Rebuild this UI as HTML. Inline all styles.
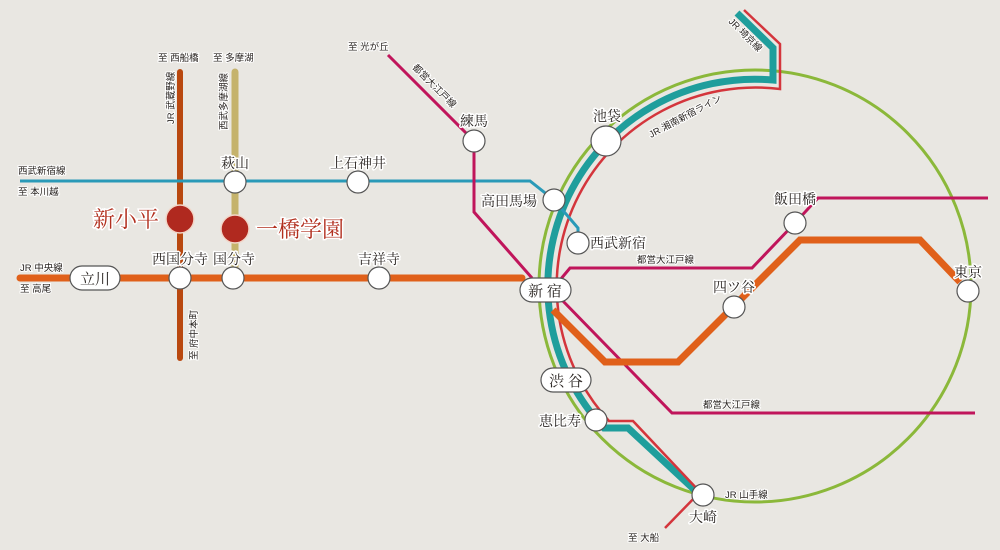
<!DOCTYPE html>
<html><head><meta charset="utf-8"><style>
html,body{margin:0;padding:0;background:#e9e7e2;}
svg{display:block;}
text{font-family:"Liberation Sans","Noto Sans CJK JP",sans-serif;fill:#2a2522;}
.st{font-family:"Liberation Serif","Noto Serif CJK SC",serif;font-size:14px;stroke:#fff;stroke-width:3px;paint-order:stroke;stroke-linejoin:round;}
.sm{font-size:9.5px;stroke:#fff;stroke-width:2px;paint-order:stroke;}
.big{font-family:"Liberation Serif","Noto Serif CJK SC",serif;font-size:22px;fill:#b2301f;stroke:#fff;stroke-width:3px;paint-order:stroke;}
.pl{font-family:"Liberation Serif","Noto Serif CJK SC",serif;font-size:15px;}
.stn{fill:#fff;stroke:#555;stroke-width:1.2;}
</style></head><body>
<svg width="1000" height="550" viewBox="0 0 1000 550" xmlns="http://www.w3.org/2000/svg">
<rect width="1000" height="550" fill="#e9e7e2"/>
<circle cx="755" cy="286" r="216" fill="none" stroke="#8bb83a" stroke-width="3"/>
<path d="M737 13 L773 48 L773 80 A207 207 0 0 0 604 428 L628 428 L700 495" fill="none" stroke="#1f9e9c" stroke-width="7" stroke-linejoin="miter"/>
<path d="M744 10 L780 44 L780 89 A199 199 0 0 0 609 421 L633 421 L700 492 L665 528" fill="none" stroke="#d4353c" stroke-width="2.5"/>
<line x1="180" y1="72" x2="180" y2="358" stroke="#b9480f" stroke-width="6" stroke-linecap="round"/>
<line x1="235" y1="72" x2="235" y2="282" stroke="#c5b36c" stroke-width="7" stroke-linecap="round"/>
<path d="M20 181 L530 181 L554 200 L578 228 L578 243" fill="none" stroke="#2a9ab8" stroke-width="3"/>
<path d="M388 55 L474 141 L474 212 L532 278" fill="none" stroke="#c0155b" stroke-width="3"/>
<path d="M560 280 L570 268 L752 268 L795 223 L818 198 L988 198" fill="none" stroke="#c0155b" stroke-width="3"/>
<path d="M560 298 L672 413 L975 413" fill="none" stroke="#c0155b" stroke-width="3"/>
<path d="M20 278 L522 278" fill="none" stroke="#e0601a" stroke-width="7" stroke-linecap="round"/>
<path d="M553 310 L605 362 L678 362 L800 240 L920 240 L960 282" fill="none" stroke="#e0601a" stroke-width="7"/>

<circle class="stn" cx="474" cy="141" r="11"/>
<circle class="stn" cx="235" cy="182" r="11"/>
<circle class="stn" cx="358" cy="182" r="11"/>
<circle class="stn" cx="180" cy="278" r="11"/>
<circle class="stn" cx="233" cy="278" r="11"/>
<circle class="stn" cx="379" cy="278" r="11"/>
<circle class="stn" cx="606" cy="141" r="15"/>
<circle class="stn" cx="554" cy="200" r="11"/>
<circle class="stn" cx="578" cy="243" r="11"/>
<circle class="stn" cx="795" cy="223" r="11"/>
<circle class="stn" cx="734" cy="307" r="11"/>
<circle class="stn" cx="968" cy="291" r="11"/>
<circle class="stn" cx="596" cy="420" r="11"/>
<circle class="stn" cx="703" cy="495" r="11"/>
<circle cx="180" cy="219" r="14" fill="#b0291f" stroke="#f2d6c8" stroke-width="1.5"/>
<circle cx="235" cy="229" r="14" fill="#b0291f" stroke="#f2d6c8" stroke-width="1.5"/>
<rect x="70" y="266" width="50" height="24" rx="12" fill="#fff" stroke="#555" stroke-width="1.2"/>
<text class="pl" x="95" y="284" text-anchor="middle">立川</text>
<rect x="520" y="278" width="51" height="24" rx="12" fill="#fff" stroke="#555" stroke-width="1.2"/>
<text class="pl" x="545" y="296" text-anchor="middle">新 宿</text>
<rect x="541" y="368" width="50" height="24" rx="12" fill="#fff" stroke="#555" stroke-width="1.2"/>
<text class="pl" x="566" y="386" text-anchor="middle">渋 谷</text>

<text class="st" x="474" y="126" text-anchor="middle">練馬</text>
<text class="st" x="235" y="168" text-anchor="middle">萩山</text>
<text class="st" x="358" y="168" text-anchor="middle">上石神井</text>
<text class="st" x="180" y="264" text-anchor="middle">西国分寺</text>
<text class="st" x="234" y="264" text-anchor="middle">国分寺</text>
<text class="st" x="379" y="264" text-anchor="middle">吉祥寺</text>
<text class="st" x="607" y="121" text-anchor="middle" font-size="15">池袋</text>
<text class="st" x="537" y="206" text-anchor="end">高田馬場</text>
<text class="st" x="590" y="248">西武新宿</text>
<text class="st" x="795" y="204" text-anchor="middle">飯田橋</text>
<text class="st" x="734" y="292" text-anchor="middle">四ツ谷</text>
<text class="st" x="968" y="277" text-anchor="middle">東京</text>
<text class="st" x="581" y="426" text-anchor="end">恵比寿</text>
<text class="st" x="703" y="522" text-anchor="middle">大崎</text>
<text class="big" x="159" y="227" text-anchor="end">新小平</text>
<text class="big" x="256" y="237">一橋学園</text>

<text class="sm" x="158" y="61">至 西船橋</text>
<text class="sm" x="213" y="61">至 多摩湖</text>
<text class="sm" x="348" y="50">至 光が丘</text>
<text class="sm" x="18" y="174">西武新宿線</text>
<text class="sm" x="18" y="195">至 本川越</text>
<text class="sm" x="20" y="271">JR 中央線</text>
<text class="sm" x="20" y="292">至 高尾</text>
<text class="sm" x="628" y="541">至 大船</text>
<text class="sm" x="725" y="498">JR 山手線</text>
<text class="sm" x="637" y="263">都営大江戸線</text>
<text class="sm" x="703" y="408">都営大江戸線</text>
<text class="sm" transform="translate(174,124) rotate(-90)">JR 武蔵野線</text>
<text class="sm" transform="translate(227,130) rotate(-90)">西武多摩湖線</text>
<text class="sm" transform="translate(197,360) rotate(-90)">至 府中本町</text>
<text class="sm" transform="translate(412,68) rotate(45)">都営大江戸線</text>
<text class="sm" transform="translate(728,22) rotate(45)">JR 埼京線</text>
<text class="sm" transform="translate(651,138) rotate(-28)">JR 湘南新宿ライン</text>
</svg>
</body></html>
